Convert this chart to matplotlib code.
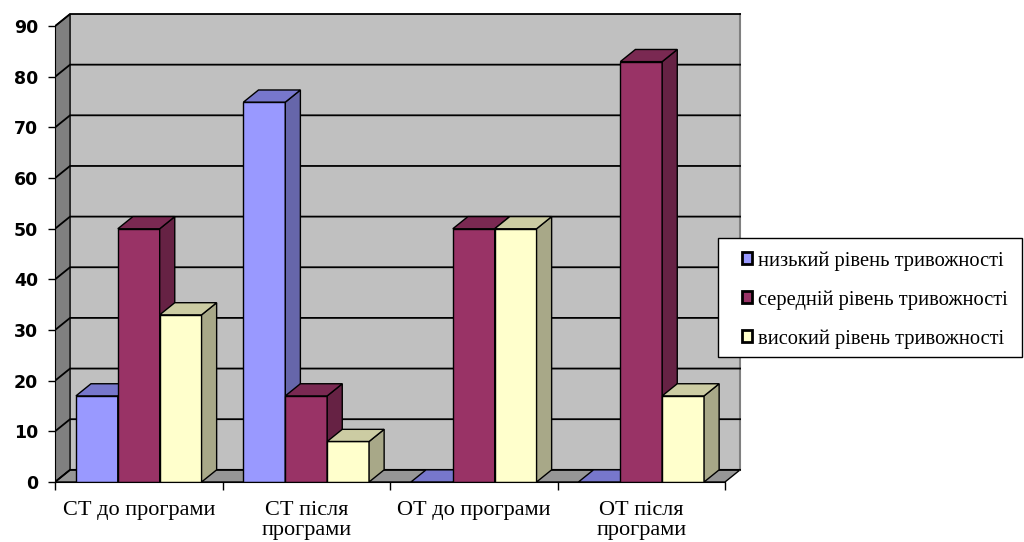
import matplotlib.pyplot as plt
from matplotlib.patches import Polygon, Patch, Rectangle

# ---------- дані ----------
categories = ["СТ до програми", "СТ після\nпрограми", "ОТ до програми", "ОТ після\nпрограми"]
series_names = ["низький рівень тривожності", "середній рівень тривожності", "високий рівень тривожності"]
low = [17, 75, 0, 0]
mid = [50, 17, 50, 83]
high = [33, 8, 50, 17]
y_ticks = list(range(0, 100, 10))

front_colors = ["#9999FF", "#993366", "#FFFFCC"]
top_colors = ["#7777CC", "#7A2952", "#CCCCA3"]
side_colors = ["#6666AA", "#662244", "#A8A888"]

# глибина 3D-ефекту (в одиницях даних)
DX, DY = 0.09, 2.4
BAR_W = 0.25
YMAX = 90

fig = plt.figure(figsize=(10.24, 5.42), dpi=100)
ax = fig.add_axes([55 / 1024, 60 / 542, 4.1 * 167.5 / 1024, 469 / 542])
ax.set_xlim(0, 4.1)
ax.set_ylim(0, 92.6)
ax.patch.set_visible(False)

# ---------- стінки ----------
ax.add_patch(Polygon([(DX, DY), (4 + DX, DY), (4 + DX, YMAX + DY), (DX, YMAX + DY)],
                     closed=True, facecolor="#C0C0C0", edgecolor="none", zorder=0))
ax.add_patch(Polygon([(0, 0), (DX, DY), (DX, YMAX + DY), (0, YMAX)],
                     closed=True, facecolor="#808080", edgecolor="black", lw=1, zorder=0.5))
ax.add_patch(Polygon([(0, 0), (4, 0), (4 + DX, DY), (DX, DY)],
                     closed=True, facecolor="#969696", edgecolor="black", lw=1, zorder=0.5))
ax.plot([4 + DX, 4 + DX], [DY, YMAX + DY], color="#808080", lw=1.5, zorder=0.6)
for v in y_ticks:
    ax.plot([0, DX, 4 + DX], [v, v + DY, v + DY], color="black", lw=1.3, zorder=0.7)

# ---------- стовпці ----------
series = [low, mid, high]
z = 2
for ci in range(len(categories)):
    for si, vals in enumerate(series):
        v = vals[ci]
        x0 = ci + 0.125 + si * BAR_W
        x1 = x0 + BAR_W
        ax.bar(x0, v, width=BAR_W, align="edge", color=front_colors[si],
               edgecolor="black", linewidth=1, zorder=z)
        ax.add_patch(Polygon([(x1, 0), (x1 + DX, DY), (x1 + DX, v + DY), (x1, v)],
                             closed=True, facecolor=side_colors[si], edgecolor="black",
                             lw=1, zorder=z))
        ax.add_patch(Polygon([(x0, v), (x0 + DX, v + DY), (x1 + DX, v + DY), (x1, v)],
                             closed=True, facecolor=top_colors[si], edgecolor="black",
                             lw=1, zorder=z))
        z += 1

# ---------- осі ----------
for s in ["top", "right"]:
    ax.spines[s].set_visible(False)
ax.spines["left"].set_bounds(0, YMAX)
ax.spines["bottom"].set_bounds(0, 4)
ax.spines["left"].set_zorder(50)
ax.spines["bottom"].set_zorder(50)
ax.set_yticks(y_ticks)
ax.tick_params(axis="y", direction="out", length=5, width=1, pad=7)
for lab in ax.get_yticklabels():
    lab.set_fontfamily("DejaVu Sans")
    lab.set_fontweight("bold")
    lab.set_fontsize(12.5)

ax.set_xticks([0, 1, 2, 3, 4])
ax.set_xticklabels([])
ax.tick_params(axis="x", which="major", direction="out", length=6, width=1)
ax.set_xticks([0.5, 1.5, 2.5, 3.5], minor=True)
ax.set_xticklabels(categories, minor=True, fontfamily="Liberation Serif", fontsize=16)
ax.tick_params(axis="x", which="minor", length=0, pad=14)
for lab in ax.get_xticklabels(minor=True):
    lab.set_linespacing(1.05)

# ---------- легенда ----------
# рамка окремо, щоб відступи збігалися з оригіналом
fig.add_artist(Rectangle((718 / 1024, 1 - 357 / 542), 304 / 1024, 119 / 542,
                         transform=fig.transFigure, facecolor="white",
                         edgecolor="black", lw=1, zorder=5))
handles = [Patch(facecolor=c, edgecolor="black", linewidth=2) for c in front_colors]
leg = fig.legend(handles, series_names, loc="upper left",
                 bbox_to_anchor=(742 / 1024, 1 - 251 / 542),
                 prop={"family": "Liberation Serif", "size": 14.8},
                 frameon=False,
                 handlelength=0.5, handleheight=0.5, handletextpad=0.3,
                 labelspacing=0.95, borderpad=0, borderaxespad=0)
leg.set_zorder(6)

fig.savefig("out.png", dpi=100)
